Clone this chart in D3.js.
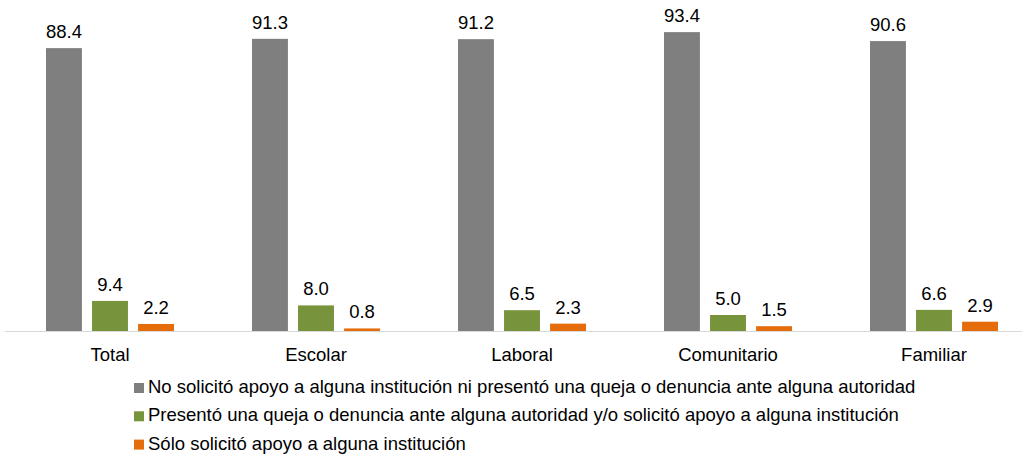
<!DOCTYPE html>
<html>
<head>
<meta charset="utf-8">
<script src="https://cdn.jsdelivr.net/npm/d3@7"></script>
<style>
  body { margin: 0; background: #fff; }
  text { font-family: "Liberation Sans", Arial, sans-serif; fill: #000; }
</style>
</head>
<body>
<div id="chart"></div>
<script>
// datos
var categories = ["Total", "Escolar", "Laboral", "Comunitario", "Familiar"];
var seriesNames = [
    "No solicitó apoyo a alguna institución ni presentó una queja o denuncia ante alguna autoridad",
    "Presentó una queja o denuncia ante alguna autoridad y/o solicitó apoyo a alguna institución",
    "Sólo solicitó apoyo a alguna institución"
];
var noApoyo = [88.4, 91.3, 91.2, 93.4, 90.6];
var presentoQueja = [9.4, 8.0, 6.5, 5.0, 6.6];
var soloApoyo = [2.2, 0.8, 2.3, 1.5, 2.9];
var colors = ["#7f7f7f", "#77933c", "#e46c0a"];

var width = 1024, height = 456;
var baseY = 331;
var fontSize = "18.5px";

var svg = d3.select("#chart").append("svg")
    .attr("width", width)
    .attr("height", height);

var x = d3.scaleBand()
    .domain(categories)
    .range([7, 1037]);

var sub = d3.scaleBand()
    .domain([0, 1, 2])
    .range([0, 128])
    .paddingInner(0.22);

var y = d3.scaleLinear()
    .domain([0, 100])
    .range([baseY, baseY - 320]);

var rows = [];
categories.forEach(function (c, i) {
    [noApoyo, presentoQueja, soloApoyo].forEach(function (s, j) {
        rows.push({cat: c, s: j, v: s[i]});
    });
});

// linea base
svg.append("line")
    .attr("x1", 5).attr("x2", 1022)
    .attr("y1", baseY + 0.5).attr("y2", baseY + 0.5)
    .attr("stroke", "#d9d9d9")
    .attr("stroke-width", 1);

var g = svg.append("g");
g.selectAll("rect")
    .data(rows)
    .enter()
    .append("rect")
    .attr("x", function (d) { return x(d.cat) + x.bandwidth() / 2 - 64 + sub(d.s); })
    .attr("width", sub.bandwidth())
    .attr("y", function (d) { return y(d.v); })
    .attr("height", function (d) { return baseY - y(d.v); })
    .attr("fill", function (d) { return colors[d.s]; });

// etiquetas de valores
g.selectAll("text.val")
    .data(rows)
    .enter()
    .append("text")
    .attr("class", "val")
    .attr("x", function (d) { return x(d.cat) + x.bandwidth() / 2 - 64 + sub(d.s) + sub.bandwidth() / 2; })
    .attr("y", function (d) { return y(d.v) - 10; })
    .attr("text-anchor", "middle")
    .style("font-size", fontSize)
    .text(function (d) { return d.v.toFixed(1); });

// categorias
svg.append("g")
    .selectAll("text")
    .data(categories)
    .enter()
    .append("text")
    .attr("x", function (d) { return x(d) + x.bandwidth() / 2; })
    .attr("y", 361)
    .attr("text-anchor", "middle")
    .style("font-size", fontSize)
    .text(function (d) { return d; });

// leyenda
var leg = svg.append("g")
    .selectAll("g")
    .data(seriesNames)
    .enter()
    .append("g")
    .attr("transform", function (d, i) { return "translate(134," + (393 + i * 28.3) + ")"; });
leg.append("rect")
    .attr("x", 0).attr("y", -10)
    .attr("width", 10).attr("height", 10)
    .attr("fill", function (d, i) { return colors[i]; });
leg.append("text")
    .attr("x", 14)
    .attr("y", 0)
    .style("font-size", fontSize)
    .text(function (d) { return d; });
</script>
</body>
</html>
